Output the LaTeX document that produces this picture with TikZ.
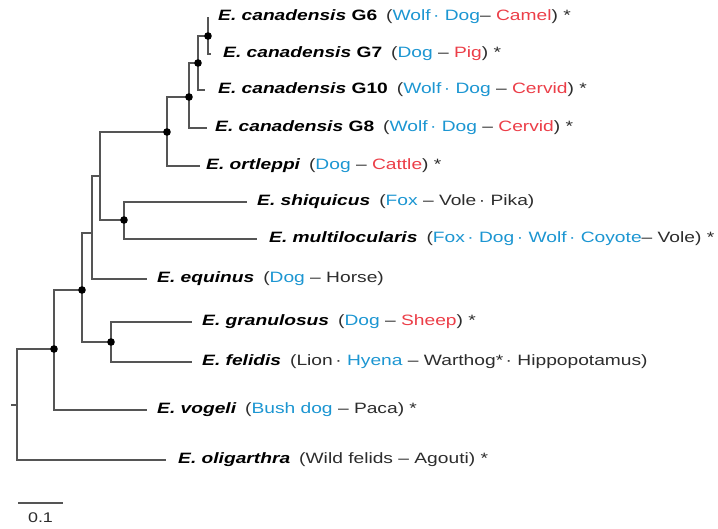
\documentclass[tikz,border=0pt]{standalone}
\usepackage{fontspec}
\setmainfont{Liberation Sans}[FakeStretch=1.28]
\usetikzlibrary{positioning,calc}
\definecolor{hostblue}{RGB}{28,150,210}
\definecolor{hostred}{RGB}{236,62,72}
\definecolor{txt}{RGB}{45,45,45}
\definecolor{branch}{RGB}{85,85,85}
\newcommand\hostB[1]{\textcolor{hostblue}{#1}}
\newcommand\hostR[1]{\textcolor{hostred}{#1}}
\newcommand\taxon[1]{\textcolor{black}{\bfseries\itshape #1}}
\newcommand\strain[1]{\textcolor{black}{\bfseries #1}}
\newcommand\gap{\hspace{9pt}}
\begin{document}
\begin{tikzpicture}[x=1pt,y=-1pt,
  tree/.style={draw=branch,line width=1.5pt},
  supp/.style={fill=black},
  tiplabel/.style={anchor=west,inner sep=0pt,text=txt,font=\fontsize{15}{18}\selectfont}]
\useasboundingbox[fill=white] (0,0) rectangle (718,529);

% internal nodes (x = vertical line, y = stem height)
\coordinate (a) at (208,36);
\coordinate (b) at (198,63);
\coordinate (c) at (189,97);
\coordinate (d) at (167,132);
\coordinate (e) at (124,220);
\coordinate (f) at (100,176);
\coordinate (g) at (92,233);
\coordinate (h) at (111,342);
\coordinate (i) at (82,290);
\coordinate (j) at (54,349);
\coordinate (root) at (17,405);
\coordinate (stub) at (11,405);

% tip ends
\coordinate (tG6) at (208,17);
\coordinate (tG7) at (211,54);
\coordinate (tG10) at (205,90);
\coordinate (tG8) at (207,128);
\coordinate (tort) at (200,166);
\coordinate (tshi) at (247,202);
\coordinate (tmul) at (257,239);
\coordinate (tequ) at (147,279);
\coordinate (tgra) at (192,322);
\coordinate (tfel) at (192,362);
\coordinate (tvog) at (147,410);
\coordinate (toli) at (166,460);

% branches
\draw[tree] (a) |- (tG6);
\draw[tree] (a) |- (tG7);
\draw[tree] (b) |- (a);
\draw[tree] (b) |- (tG10);
\draw[tree] (c) |- (b);
\draw[tree] (c) |- (tG8);
\draw[tree] (d) |- (c);
\draw[tree] (d) |- (tort);
\draw[tree] (e) |- (tshi);
\draw[tree] (e) |- (tmul);
\draw[tree] (f) |- (d);
\draw[tree] (f) |- (e);
\draw[tree] (g) |- (f);
\draw[tree] (g) |- (tequ);
\draw[tree] (h) |- (tgra);
\draw[tree] (h) |- (tfel);
\draw[tree] (i) |- (g);
\draw[tree] (i) |- (h);
\draw[tree] (j) |- (i);
\draw[tree] (j) |- (tvog);
\draw[tree] (root) |- (j);
\draw[tree] (root) |- (toli);
\draw[tree] (stub) -- (root);

% supported nodes
\foreach \n in {a,b,c,d,e,h,i,j} \fill[supp] (\n) circle (3.8);

% tip labels
\node[tiplabel,right=10pt of tG6] (lG6) {\taxon{E. canadensis} \strain{G6}\gap(\hostB{Wolf\,· Dog}– \hostR{Camel}) *};
\node[tiplabel,right=12pt of tG7] (lG7) {\taxon{E. canadensis} \strain{G7}\gap(\hostB{Dog} – \hostR{Pig}) *};
\node[tiplabel,right=13pt of tG10] (lG10) {\taxon{E. canadensis} \strain{G10}\gap(\hostB{Wolf\,· Dog} – \hostR{Cervid}) *};
\node[tiplabel,right=8pt of tG8] (lG8) {\taxon{E. canadensis} \strain{G8}\gap(\hostB{Wolf\,· Dog} – \hostR{Cervid}) *};
\node[tiplabel,right=6pt of tort] (lort) {\taxon{E. ortleppi}\gap(\hostB{Dog} – \hostR{Cattle}) *};
\node[tiplabel,right=10pt of tshi] (lshi) {\taxon{E. shiquicus}\gap(\hostB{Fox} – Vole\,· Pika)};
\node[tiplabel,right=12pt of tmul] (lmul) {\taxon{E. multilocularis}\gap(\hostB{Fox\,· Dog\,· Wolf\,· Coyote}– Vole) *};
\node[tiplabel,right=10pt of tequ] (lequ) {\taxon{E. equinus}\gap(\hostB{Dog} – Horse)};
\node[tiplabel,right=10pt of tgra] (lgra) {\taxon{E. granulosus}\gap(\hostB{Dog} – \hostR{Sheep}) *};
\node[tiplabel,right=10pt of tfel] (lfel) {\taxon{E. felidis}\gap(Lion\,· \hostB{Hyena} – Warthog*\,· Hippopotamus)};
\node[tiplabel,right=10pt of tvog] (lvog) {\taxon{E. vogeli}\gap(\hostB{Bush dog} – Paca) *};
\node[tiplabel,right=12pt of toli] (loli) {\taxon{E. oligarthra}\gap(Wild felids – Agouti) *};

% scale bar
\coordinate (sb1) at (18,503);
\coordinate (sb2) at (63,503);
\draw[tree] (sb1) -- (sb2);
\node[text=txt,font=\fontsize{14}{16}\selectfont,anchor=north] (sblab) at ([yshift=-6pt]$(sb1)!0.5!(sb2)$) {0.1};
\end{tikzpicture}
\end{document}
